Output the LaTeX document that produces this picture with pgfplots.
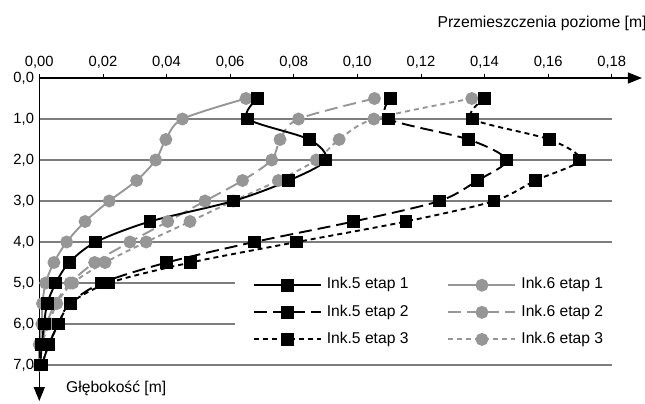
\documentclass[border=0pt]{standalone}
\usepackage{fontspec}
\setmainfont{Liberation Sans}
\usepackage{pgfplots}
\pgfplotsset{compat=1.18}
\usetikzlibrary{arrows.meta}
\definecolor{gr}{RGB}{150,150,150}
\definecolor{gridc}{RGB}{125,125,125}

\pgfplotstableread{
d   v
0.5 0.0686
1.0 0.0656
1.5 0.0849
2.0 0.0901
2.5 0.0785
3.0 0.0610
3.5 0.0348
4.0 0.0178
4.5 0.0094
5.0 0.0052
5.5 0.0025
6.0 0.0015
6.5 0.0008
7.0 0.0003
}\inkAa
\pgfplotstableread{
d   v
0.5 0.1104
1.0 0.1098
1.5 0.1350
2.0 0.1469
2.5 0.1378
3.0 0.1258
3.5 0.0988
4.0 0.0676
4.5 0.0401
5.0 0.0196
5.5 0.0097
6.0 0.0060
6.5 0.0030
7.0 0.0008
}\inkAb
\pgfplotstableread{
d   v
0.5 0.1400
1.0 0.1362
1.5 0.1604
2.0 0.1700
2.5 0.1560
3.0 0.1430
3.5 0.1153
4.0 0.0810
4.5 0.0476
5.0 0.0218
5.5 0.0097
6.0 0.0060
6.5 0.0030
7.0 0.0008
}\inkAc
\pgfplotstableread{
d   v
0.5 0.0650
1.0 0.0450
1.5 0.0398
2.0 0.0366
2.5 0.0306
3.0 0.0220
3.5 0.0144
4.0 0.0086
4.5 0.0046
5.0 0.0020
5.5 0.0010
6.0 0.0008
6.5 0.0000
7.0 0.0000
}\inkBa
\pgfplotstableread{
d   v
0.5 0.1054
1.0 0.0815
1.5 0.0757
2.0 0.0731
2.5 0.0639
3.0 0.0521
3.5 0.0404
4.0 0.0285
4.5 0.0174
5.0 0.0097
5.5 0.0050
6.0 0.0023
6.5 0.0008
7.0 0.0000
}\inkBb
\pgfplotstableread{
d   v
0.5 0.1360
1.0 0.1052
1.5 0.0943
2.0 0.0871
2.5 0.0752
3.0 0.0610
3.5 0.0474
4.0 0.0336
4.5 0.0207
5.0 0.0105
5.5 0.0055
6.0 0.0031
6.5 0.0008
7.0 0.0000
}\inkBc

\begin{document}
\fontsize{15.5}{18}\selectfont
\begin{tikzpicture}
\path[use as bounding box] (-39.3bp,-39bp) rectangle (605.7bp,365bp);
\begin{axis}[
  scale only axis, width=572.4bp, height=287bp,
  at={(0,0)}, anchor=south west,
  xmin=0, xmax=0.18, ymin=0, ymax=7, y dir=reverse,
  clip=false,
  axis line style={draw=none},
  xtick={0,0.02,0.04,0.06,0.08,0.10,0.12,0.14,0.16,0.18},
  ytick={0,1,2,3,4,5,6,7},
  xtick pos=right, xticklabel pos=right,
  ytick pos=left, yticklabel pos=left,
  xtick align=outside, major tick length=4bp,
  xtick style={black, line width=0.8pt},
  ytick style={draw=none},
  xticklabel style={/pgf/number format/.cd, fixed, fixed zerofill, precision=2, use comma, assume math mode=true},
  yticklabel style={/pgf/number format/.cd, fixed, fixed zerofill, precision=1, use comma, assume math mode=true},
  ticklabel style={font=\fontsize{14.8}{17}\selectfont},
  ymajorgrids, major grid style={gridc, line width=1.1pt},
  legend image code/.code={\draw[mark repeat=2,mark phase=2,#1] plot coordinates {(0bp,0bp) (33.5bp,0bp) (67bp,0bp)};},
  legend columns=2,
  legend style={draw=none, fill=white, at={(axis cs:0.0616,4.68)}, anchor=north west,
    font=\fontsize{15.7}{18}\selectfont,
    inner xsep=17.5bp, inner ysep=1.6bp,
    nodes={inner xsep=5bp, inner ysep=6.3bp, text height=11bp, text depth=3.5bp},
    /tikz/every even column/.append style={column sep=34bp}},
  legend cell align=left,
]
\addlegendimage{black, line width=1.9pt, mark=square*, mark size=5.5bp, mark options={solid}}
\addlegendentry{Ink.5 etap 1}
\addlegendimage{gr, line width=1.9pt, mark=*, mark size=5.5bp, mark options={solid}}
\addlegendentry{Ink.6 etap 1}
\addlegendimage{black, line width=1.9pt, dash pattern=on 13bp off 6bp, mark=square*, mark size=5.5bp, mark options={solid}}
\addlegendentry{Ink.5 etap 2}
\addlegendimage{gr, line width=1.9pt, dash pattern=on 13bp off 6bp, mark=*, mark size=5.5bp, mark options={solid}}
\addlegendentry{Ink.6 etap 2}
\addlegendimage{black, line width=1.9pt, dash pattern=on 5bp off 4bp, mark=square*, mark size=5.5bp, mark options={solid}}
\addlegendentry{Ink.5 etap 3}
\addlegendimage{gr, line width=1.9pt, dash pattern=on 5bp off 4bp, mark=*, mark size=5.5bp, mark options={solid}}
\addlegendentry{Ink.6 etap 3}

\addplot[forget plot, gr, line width=1.9pt, smooth, mark=*, mark size=5.5bp, mark options={solid}] table[x=v,y=d] {\inkBa};
\addplot[forget plot, gr, line width=1.9pt, smooth, dash pattern=on 13bp off 6bp, mark=*, mark size=5.5bp, mark options={solid}] table[x=v,y=d] {\inkBb};
\addplot[forget plot, gr, line width=1.9pt, smooth, dash pattern=on 5bp off 4bp, mark=*, mark size=5.5bp, mark options={solid}] table[x=v,y=d] {\inkBc};
\addplot[forget plot, black, line width=1.9pt, smooth, mark=square*, mark size=5.5bp, mark options={solid}] table[x=v,y=d] {\inkAa};
\addplot[forget plot, black, line width=1.9pt, smooth, dash pattern=on 13bp off 6bp, mark=square*, mark size=5.5bp, mark options={solid}] table[x=v,y=d] {\inkAb};
\addplot[forget plot, black, line width=1.9pt, smooth, dash pattern=on 5bp off 4bp, mark=square*, mark size=5.5bp, mark options={solid}] table[x=v,y=d] {\inkAc};

\draw[black, line width=1.2pt, -{Triangle[length=14bp,width=11bp]}] (axis cs:0,0) -- (axis cs:0.1895,0);
\draw[black, line width=1.2pt, -{Triangle[length=14bp,width=11bp]}] (axis cs:0,0) -- (axis cs:0,7.88);
\end{axis}
\node[anchor=base west, inner sep=0pt, font=\fontsize{15.8}{18}\selectfont] at (398bp,337.7bp) {Przemieszczenia poziome [m]};
\node[anchor=base west, inner sep=0pt, font=\fontsize{15.7}{18}\selectfont] at (26.7bp,-27.3bp) {Głębokość [m]};
\end{tikzpicture}
\end{document}
